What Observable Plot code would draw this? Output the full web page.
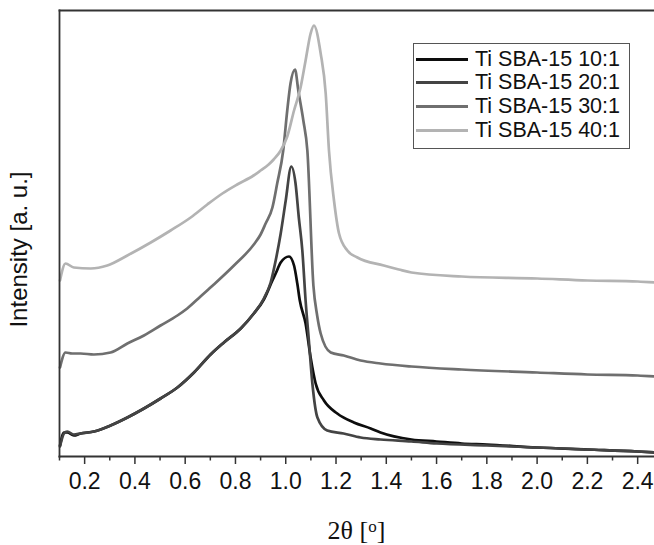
<!DOCTYPE html>
<html>
<head>
<meta charset="utf-8">
<script src="https://cdn.jsdelivr.net/npm/d3@7"></script>
<script src="https://cdn.jsdelivr.net/npm/@observablehq/plot@0.6"></script>
<style>
  html, body { margin: 0; padding: 0; background: #fff; }
  #wrap { position: relative; width: 654px; height: 545px; overflow: hidden; font-family: "Liberation Sans", Arial, sans-serif; }
  #legend { position: absolute; left: 413px; top: 43px; width: 217px; height: 106px; border: 1.3px solid #555; box-sizing: border-box; background: #fff; }
  .row { position: absolute; left: 0; height: 24px; display: flex; align-items: center; }
  .sw { width: 52px; height: 3px; margin-left: 2px; margin-right: 7px; }
  .lab { font-size: 21.5px; color: #111; white-space: nowrap; }
  #xlabel { position: absolute; top: 516px; left: 0; width: 654px; padding-left: 59px; box-sizing: border-box; text-align: center; font-family: "Liberation Serif", "Times New Roman", serif; font-size: 26px; line-height: 30px; color: #111; }
  #xlabel sup { font-size: 17px; line-height: 0; vertical-align: 7px; }
  g[aria-label="x-axis tick label"] { font-size: 23px; }
</style>
</head>
<body>
<div id="wrap">
  <div id="chart"></div>
  <div id="legend"></div>
  <div id="xlabel">2θ [<sup>o</sup>]</div>
</div>
<script>
// Series names and colours
const seriesNames = ["Ti SBA-15 10:1", "Ti SBA-15 20:1", "Ti SBA-15 30:1", "Ti SBA-15 40:1"];
const seriesColors = ["#0d0d0d", "#444444", "#6f6f6f", "#b3b3b3"];

// Ti SBA-15 10:1
const x10 = [0.102, 0.118, 0.131, 0.157, 0.184, 0.237, 0.303, 0.370, 0.436, 0.502, 0.569, 0.635, 0.701, 0.754, 0.821, 0.873, 0.913, 0.947, 0.960, 0.980, 1.013, 1.033, 1.046, 1.056, 1.079, 1.099, 1.119, 1.152, 1.205, 1.271, 1.338, 1.377, 1.50, 1.60, 1.70, 1.80, 2.00, 2.20, 2.40, 2.467];
const y10 = [11, 24, 24, 21, 23, 25, 31, 39, 48, 58, 69, 84, 102, 114, 128, 143, 157, 176, 183, 194, 200, 191, 173, 156, 133, 99, 73, 56, 43, 34, 28, 24, 17, 15, 13, 12, 9, 7, 5, 4];

// Ti SBA-15 20:1
const x20 = [0.102, 0.118, 0.131, 0.157, 0.184, 0.237, 0.303, 0.370, 0.436, 0.502, 0.569, 0.635, 0.701, 0.754, 0.821, 0.873, 0.913, 0.940, 0.960, 0.980, 1.000, 1.022, 1.039, 1.052, 1.066, 1.079, 1.092, 1.106, 1.126, 1.165, 1.230, 1.298, 1.377, 1.50, 1.60, 1.80, 2.00, 2.20, 2.40, 2.467];
const y20 = [10, 23, 25, 22, 23, 25, 31, 39, 48, 58, 69, 84, 102, 114, 128, 143, 158, 174, 196, 223, 256, 290, 273, 239, 206, 156, 116, 73, 39, 26, 23, 19, 17, 15, 13, 11, 9, 7, 5, 4];

// Ti SBA-15 30:1
const x30 = [0.102, 0.124, 0.150, 0.184, 0.237, 0.303, 0.370, 0.436, 0.502, 0.569, 0.608, 0.661, 0.714, 0.794, 0.873, 0.900, 0.920, 0.947, 0.966, 0.990, 1.006, 1.019, 1.037, 1.050, 1.070, 1.086, 1.110, 1.125, 1.139, 1.179, 1.231, 1.298, 1.377, 1.50, 1.70, 2.00, 2.20, 2.40, 2.467];
const y30 = [89, 104, 103, 103, 102, 104, 113, 121, 131, 141, 148, 160, 172, 191, 212, 222, 233, 249, 273, 306, 346, 373, 387, 366, 336, 306, 171, 141, 123, 104, 101, 96, 93, 90, 87, 84, 82, 81, 80];

// Ti SBA-15 40:1
const x40 = [0.102, 0.124, 0.157, 0.224, 0.290, 0.370, 0.463, 0.542, 0.622, 0.688, 0.748, 0.807, 0.872, 0.900, 0.932, 0.952, 0.980, 1.006, 1.033, 1.059, 1.079, 1.099, 1.112, 1.139, 1.159, 1.172, 1.192, 1.212, 1.245, 1.285, 1.390, 1.450, 1.50, 1.70, 2.00, 2.20, 2.40, 2.467];
const y40 = [176, 193, 189, 188, 191, 201, 214, 226, 239, 252, 263, 272, 281, 286, 292, 297, 306, 320, 346, 369, 396, 423, 431, 403, 363, 306, 256, 223, 206, 199, 191, 187, 184, 180, 178, 176, 175, 174];

// Axis ticks
const majorTicks = [0.2, 0.4, 0.6, 0.8, 1.0, 1.2, 1.4, 1.6, 1.8, 2.0, 2.2, 2.4];
const minorTicks = [0.1, 0.3, 0.5, 0.7, 0.9, 1.1, 1.3, 1.5, 1.7, 1.9, 2.1, 2.3];

const xs = [x10, x20, x30, x40];
const ys = [y10, y20, y30, y40];
const data = [];
seriesNames.forEach((name, i) => {
  xs[i].forEach((x, j) => data.push({series: name, x, y: ys[i][j]}));
});

const chart = Plot.plot({
  width: 654,
  height: 500,
  marginLeft: 59,
  marginRight: 0,
  marginTop: 10,
  marginBottom: 44,
  style: {fontFamily: "'Liberation Sans', Arial, sans-serif", background: "#fff", color: "#111"},
  x: {domain: [0.1, 2.467]},
  y: {domain: [0, 446]},
  color: {domain: seriesNames, range: seriesColors},
  marks: [
    Plot.line(data, {x: "x", y: "y", z: "series", stroke: "series", strokeWidth: 2.7, curve: "monotone-x"}),
    Plot.frame({anchor: "top", stroke: "#333", strokeWidth: 1.8}),
    Plot.frame({anchor: "left", stroke: "#333", strokeWidth: 1.8}),
    Plot.frame({anchor: "bottom", stroke: "#333", strokeWidth: 1.8}),
    Plot.axisX(majorTicks, {tickSize: 8, tickPadding: 8, fontSize: 23, tickFormat: d3.format(".1f"), stroke: "#333", strokeWidth: 1.5, label: null}),
    Plot.axisX(minorTicks, {tickSize: 4.5, tickFormat: () => "", stroke: "#333", strokeWidth: 1.5, label: null}),
    Plot.axisY({ticks: [], label: null}),
    Plot.text(["Intensity [a. u.]"], {frameAnchor: "left", rotate: -90, textAnchor: "middle", dx: -40, dy: 16, fontSize: 24, fill: "#111"})
  ]
});
document.getElementById("chart").appendChild(chart);

// Legend
const legend = document.getElementById("legend");
const rowTops = [3, 26.5, 50, 74];
seriesNames.forEach((name, i) => {
  const row = document.createElement("div");
  row.className = "row";
  row.style.top = rowTops[i] + "px";
  const sw = document.createElement("div");
  sw.className = "sw";
  sw.style.background = seriesColors[i];
  const lab = document.createElement("span");
  lab.className = "lab";
  lab.textContent = name;
  row.appendChild(sw);
  row.appendChild(lab);
  legend.appendChild(row);
});
</script>
</body>
</html>
